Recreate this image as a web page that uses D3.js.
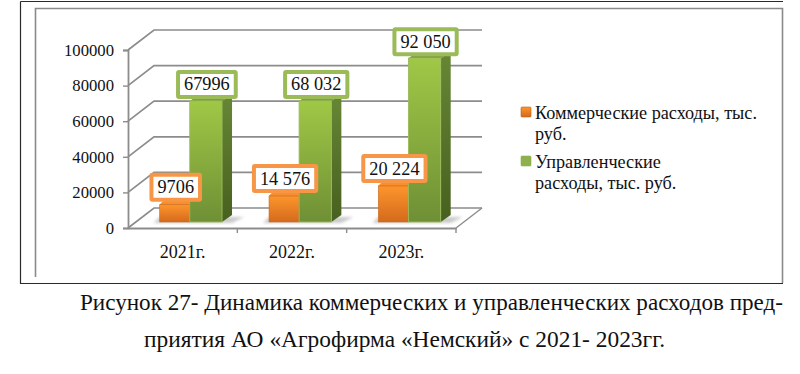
<!DOCTYPE html>
<html><head><meta charset="utf-8">
<script src="https://cdnjs.cloudflare.com/ajax/libs/d3/7.8.5/d3.min.js"></script>
<style>html,body{margin:0;padding:0;background:#fff}svg{display:block}text{font-family:"Liberation Serif",serif;fill:#111}</style>
</head><body><svg id="c" width="800" height="374"></svg>
<script>
const categories = ["2021г.", "2022г.", "2023г."];
const commercial = [9706, 14576, 20224];
const admin = [67996, 68032, 92050];
const commercialLabels = ["9706", "14 576", "20 224"];
const adminLabels = ["67996", "68 032", "92 050"];
const yTicks = [0, 20000, 40000, 60000, 80000, 100000];
const legendLines = [["Коммерческие расходы, тыс.", "руб."], ["Управленческие", "расходы, тыс. руб."]];
const captionLines = ["Рисунок 27- Динамика коммерческих и управленческих расходов пред-", "приятия АО «Агрофирма «Немский» с 2021- 2023гг."];

const svg = d3.select("#c");
const defs = svg.append("defs");
function grad(id, stops, x2=0, y2=1){
  const g = defs.append("linearGradient").attr("id", id).attr("x1",0).attr("y1",0).attr("x2",x2).attr("y2",y2);
  stops.forEach(s=>g.append("stop").attr("offset",s[0]).attr("stop-color",s[1]).attr("stop-opacity",s[2]??1));
}
grad("gF",[[0,"#a0c846"],[1,"#6f8f35"]]);
grad("gS",[[0,"#678735"],[1,"#47601f"]]);
grad("oF",[[0,"#fd952c"],[1,"#d46a1c"]]);
defs.append("filter").attr("id","blur").attr("x","-30%").attr("y","-50%").attr("width","160%").attr("height","200%")
  .append("feGaussianBlur").attr("stdDeviation",1.6);

// frames
svg.append("path").attr("d","M35.5 277V8.5H782.5V283").attr("fill","none").attr("stroke","#8a8a8a").attr("stroke-width",1.6);
svg.append("path").attr("d","M20.5 1.5H783 M20.5 1.5V283.5H783").attr("fill","none").attr("stroke","#2a2a2a").attr("stroke-width",1.2);

const dx = 26, dy = -20;
const x = d3.scaleBand().domain(categories).range([128,456]);
const y = d3.scaleLinear().domain([0,100000]).range([228,50]);
const grid = "#8c8c8c";

const g = svg.append("g");
yTicks.forEach(t=>{
  const yy = y(t);
  g.append("path").attr("d",`M${x.range()[0]} ${yy}L${x.range()[0]+dx} ${yy+dy}H${x.range()[1]+dx}`).attr("fill","none").attr("stroke",grid).attr("stroke-width",1.7);
});
g.append("path").attr("d",`M${x.range()[1]+dx} ${y(0)+dy}L${x.range()[1]} ${y(0)}`).attr("stroke",grid).attr("stroke-width",1.4).attr("fill","none");

const yAxis = d3.axisLeft(y).tickValues(yTicks).tickSize(5).tickPadding(9).tickFormat(d3.format("d"));
const ya = svg.append("g").attr("transform",`translate(${x.range()[0]},0)`).call(yAxis);
const xAxis = d3.axisBottom(x).tickSize(0).tickPadding(17);
const xa = svg.append("g").attr("transform",`translate(0,${y(0)})`).call(xAxis);
[ya,xa].forEach(a=>{
  a.selectAll("path").attr("stroke",grid).attr("stroke-width",1.8);
  a.selectAll("line").attr("stroke",grid).attr("stroke-width",1.4);
  a.selectAll("text").attr("font-family","Liberation Serif").attr("fill","#111");
});
ya.selectAll("text").attr("font-size",16.7);
xa.selectAll("text").attr("font-size",18);
x.domain().forEach(c=>{
  xa.append("line").attr("x1",x(c)+x.bandwidth()).attr("x2",x(c)+x.bandwidth()).attr("y1",0).attr("y2",5).attr("stroke",grid).attr("stroke-width",1.4);
});

const inner = d3.scaleLinear().domain([0,1]).range([0,x.bandwidth()]);
const oStart=inner(0.29), split=inner(0.565), gEnd=inner(0.86);
const base = y(0)-6, sdx=10, sdy=-7, scale=(y(0)-y(100000))/100000;
const barTop = v=>base-v*scale;
categories.forEach((c,i)=>{
  const x0=x(c);
  g.append("path").attr("d",`M${x0+oStart-6} ${base+1}L${x0+oStart} ${base-5}H${x0+gEnd+22}L${x0+gEnd+10} ${base+1}Z`)
   .attr("fill","#b8b8b8").attr("opacity",.75).attr("filter","url(#blur)");
  const xa0=x0+oStart, xa1=x0+split, xb1=x0+gEnd;
  const ot=barTop(commercial[i]), gt=barTop(admin[i]);
  g.append("path").attr("d",`M${xa0} ${ot}L${xa0+sdx*.6} ${ot+sdy*.8}H${xa1+sdx}V${ot}H${xa1}Z`).attr("fill","#f98e2c").attr("stroke","#e07b22").attr("stroke-width",.6);
  g.append("rect").attr("x",xa0).attr("y",ot).attr("width",xa1-xa0).attr("height",base-ot).attr("fill","url(#oF)").attr("stroke","#c9691f").attr("stroke-width",.6);
  g.append("path").attr("d",`M${xb1} ${gt}L${xb1+sdx} ${gt+sdy}V${base+sdy}L${xb1} ${base}Z`).attr("fill","url(#gS)");
  g.append("path").attr("d",`M${xa1} ${gt}L${xa1+sdx} ${gt+sdy}H${xb1+sdx}L${xb1} ${gt}Z`).attr("fill","#7f9f3c");
  g.append("rect").attr("x",xa1).attr("y",gt).attr("width",xb1-xa1).attr("height",base-gt).attr("fill","url(#gF)").attr("stroke","#9bbb59").attr("stroke-width",.9);
});

function label(txt, cx, bottom, color, h){
  const r = svg.append("rect");
  const t = svg.append("text").attr("x",cx).attr("y",bottom-h/2+6).attr("text-anchor","middle").attr("font-size",18.3).text(txt);
  const w = t.node().getComputedTextLength()+12;
  r.attr("x",cx-w/2).attr("y",bottom-h).attr("width",w).attr("height",h).attr("rx",1).attr("fill","#fff").attr("stroke",color).attr("stroke-width",4);
}
categories.forEach((c,i)=>{
  const oc=x(c)+(oStart+split)/2, gc=x(c)+(split+gEnd)/2;
  label(commercialLabels[i], oc+1, barTop(commercial[i])-5, "#f79646", 25);
  label(adminLabels[i], gc+1, barTop(admin[i])-4, "#9bbb59", 25);
});

const lg = svg.append("g");
const lc=[["url(#oF)","#b4621e"],["#8fb04c","#8fb04c"]], ly=[107,156], ltx=535;
legendLines.forEach((ls,i)=>{
  lg.append("rect").attr("x",521).attr("y",ly[i]).attr("width",10).attr("height",10).attr("rx",1).attr("fill",lc[i][0]).attr("stroke",lc[i][1]).attr("stroke-width",.6);
  ls.forEach((s,k)=>lg.append("text").attr("x",ltx).attr("y",ly[i]+12+k*21).attr("font-size",18.2).text(s));
});

const tw=[703,521], tx=[80,144], tyy=[310,347];
captionLines.forEach((s,i)=>svg.append("text").attr("x",tx[i]).attr("y",tyy[i]).attr("font-size",23).attr("textLength",tw[i]).attr("lengthAdjust","spacingAndGlyphs").text(s));
</script></body></html>
